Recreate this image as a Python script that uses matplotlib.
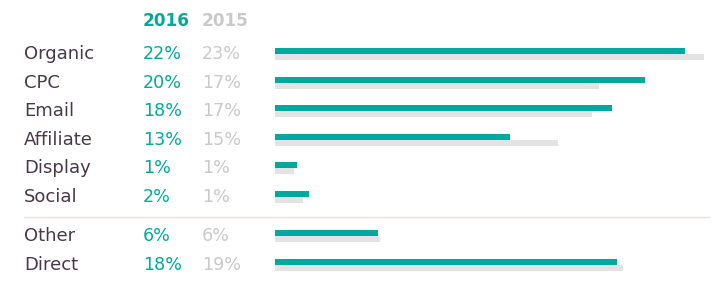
import matplotlib.pyplot as plt
from matplotlib.transforms import blended_transform_factory
from matplotlib.lines import Line2D

# -- Data -- #
channels = ['Organic', 'CPC', 'Email', 'Affiliate', 'Display', 'Social', 'Other', 'Direct']
share_2016 = [21.98, 19.84, 18.07, 12.6, 1.16, 1.82, 5.52, 18.34]
share_2015 = [23.0, 17.37, 17.0, 15.17, 1.02, 1.5, 5.63, 18.66]
labels_2016 = ['22%', '20%', '18%', '13%', '1%', '2%', '6%', '18%']
labels_2015 = ['23%', '17%', '17%', '15%', '1%', '1%', '6%', '19%']
years = ['2016', '2015']

TEAL = '#00A99D'
BAR_GREY = '#E3E3E3'
TXT_GREY = '#C9C9C9'
LABEL = '#4A3848'
SEP = '#E8E2DA'

W, H = 720, 281
PITCH = 28.5          # px between rows
BAR_H = 6 / PITCH     # bar thickness in row units
GAP = 0.4             # extra space before Other / Direct
PX_PER_PCT = 18.65

plt.rcParams['font.family'] = ['DejaVu Sans']

fig = plt.figure(figsize=(W / 100, H / 100), dpi=100)
x0 = 275
ax = fig.add_axes([x0 / W, 0, 1 - x0 / W, 1])
ax.axis('off')
ax.set_xlim(0, (W - x0) / PX_PER_PCT)

rows = [i + (GAP if i >= 6 else 0) for i in range(len(channels))]
top = 54 / PITCH
ax.set_ylim(rows[-1] + (H - 265) / PITCH, -top)

ax.barh([r - BAR_H / 2 for r in rows], share_2016, height=BAR_H, color=TEAL, left=0)
ax.barh([r + BAR_H / 2 for r in rows], share_2015, height=BAR_H, color=BAR_GREY, left=0)

tr = blended_transform_factory(fig.transFigure, ax.transData)
col_lbl, col_a, col_b = 24 / W, 143 / W, 202 / W
fs = 13
base = 5 / PITCH
for r, name, a, b in zip(rows, channels, labels_2016, labels_2015):
    ax.text(col_lbl, r + base, name, transform=tr, fontsize=fs, color=LABEL, va='baseline')
    ax.text(col_a, r + base, a, transform=tr, fontsize=12.6, color=TEAL, va='baseline')
    ax.text(col_b, r + base, b, transform=tr, fontsize=12.6, color=TXT_GREY, va='baseline')

hdr = -1.16 + base
ax.text(col_a, hdr, years[0], transform=tr, fontsize=12.2, color=TEAL, va='baseline', fontweight='bold')
ax.text(col_b, hdr, years[1], transform=tr, fontsize=12.2, color=TXT_GREY, va='baseline', fontweight='bold')

sep_y = (rows[5] + rows[6]) / 2
fig.add_artist(Line2D([24 / W, 709 / W], [sep_y, sep_y], transform=tr, color=SEP, lw=1))

fig.savefig('out.png', dpi=100, facecolor='white')
